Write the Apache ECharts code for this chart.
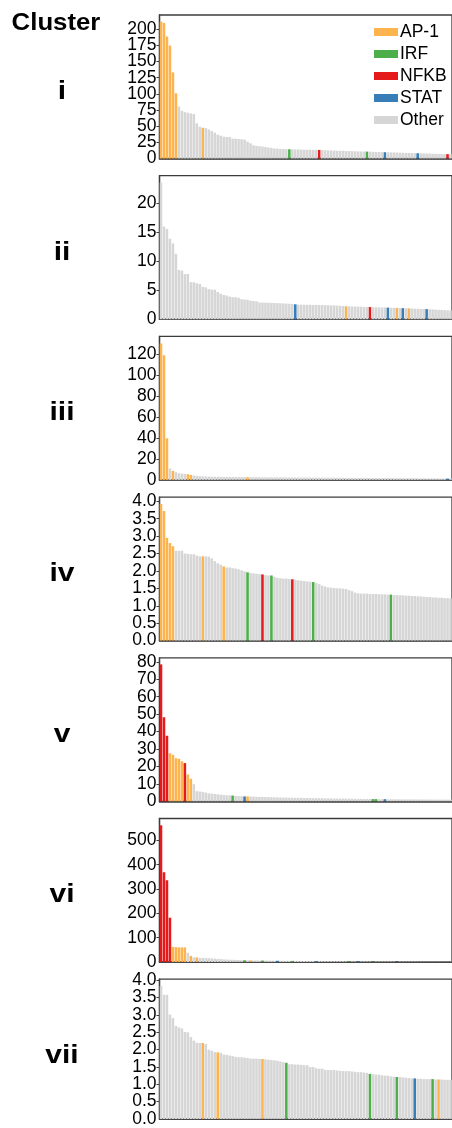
<!DOCTYPE html>
<html>
<head>
<meta charset="utf-8">
<script src="https://cdn.jsdelivr.net/npm/echarts@6/dist/echarts.min.js"></script>
<style>
  html, body { margin: 0; padding: 0; background: #fff; }
  #chart { width: 452px; height: 1128px; }
</style>
</head>
<body>
<div id="chart"></div>
<script>
// Motif families and their colours
const families = ['AP-1', 'IRF', 'NFKB', 'STAT', 'Other'];
const familyColors = ['#FDB44E', '#4DAF4A', '#E41A1C', '#377EB8', '#D6D6D6'];
const clusterNames = ['i', 'ii', 'iii', 'iv', 'v', 'vi', 'vii'];

// Ranked motif enrichment per cluster (top motifs, descending)
const valuesI = [211.7, 209.7, 188.7, 174.8, 133.3, 101, 80.5, 73.8, 71.7, 70.7, 69.7, 68.7, 54.3, 49.2,
  47.6, 47.1, 45.1, 42.5, 40, 36.9, 35.3, 33.8, 33.3, 33.3, 30.7, 30.7, 30.2, 29.7,
  29.2, 26.1, 23.5, 20.5, 19.4, 19, 18.5, 17.9, 16.9, 16.4, 15.3, 15.3, 14.8, 14.8, 14.3, 14.3,
  14.1, 14.0, 13.9, 13.8, 13.7, 13.6, 13.5, 13.4, 13.3, 13.2,
  13.0, 12.8, 12.6, 12.4, 12.2, 12.0, 11.9, 11.8, 11.6, 11.4, 11.3, 11.2, 11.0, 10.9, 10.8,
  10.7, 10.5, 10.3, 10.2, 10.0, 9.9, 9.7,
  9.6, 9.5, 9.3, 9.2, 9.0, 8.9, 8.7, 8.6, 8.4, 8.3, 8.2,
  8.0, 7.9, 7.8, 7.6, 7.4, 7.3, 7.1, 7.0, 6.8, 6.7, 6.6];
const valuesII = [23.6, 16, 15.6, 13.9, 13.1, 11.3, 8.5, 8.4, 7.8, 7.8, 6.4, 6.4,
  6.2, 6.1, 5.6, 5.5, 5.2, 5.1, 5.1, 4.7, 4.4, 4.2, 4.1, 3.9,
  3.8, 3.8, 3.7, 3.45, 3.4, 3.35, 3.2, 3.15, 3.1, 2.9,
  2.88, 2.86, 2.84, 2.82, 2.8, 2.78, 2.75, 2.72, 2.7, 2.67, 2.63,
  2.58,
  2.52, 2.51, 2.5, 2.49, 2.48, 2.47, 2.46, 2.45, 2.44, 2.43, 2.42, 2.4, 2.38, 2.35, 2.32, 2.28,
  2.24,
  2.22, 2.2, 2.19, 2.18, 2.16, 2.14, 2.12,
  2.1,
  2.08, 2.06, 2.05, 2.03, 2.02,
  2.0, 1.98, 1.97, 1.95, 1.93, 1.91, 1.89, 1.87,
  1.85, 1.83, 1.81, 1.79, 1.77, 1.75,
  1.72, 1.69, 1.66, 1.63, 1.6, 1.57, 1.54, 1.52];
const valuesIII = [130.2, 119, 39.7, 10.8, 8.6, 7.3, 6.3, 6.0, 5.7, 5.4, 4.8,
  4.1, 3.8, 3.6, 3.4, 3.3, 3.2, 3.1, 3.0, 2.95, 2.9, 2.85, 2.8, 2.78, 2.75, 2.72, 2.7, 2.68, 2.65,
  2.62,
  2.6, 2.59, 2.55, 2.54, 2.5, 2.49, 2.47, 2.44, 2.43, 2.41, 2.4, 2.37, 2.36, 2.33, 2.31, 2.3, 2.27, 2.26, 2.24, 2.21,
  2.2, 2.18, 2.15, 2.14, 2.13, 2.1, 2.07, 2.06, 2.04, 2.01, 2.0, 1.98, 1.95, 1.94, 1.92, 1.9, 1.87, 1.86, 1.84, 1.81,
  1.8, 1.78, 1.75, 1.74, 1.72, 1.7, 1.68, 1.65, 1.64, 1.62, 1.6, 1.57, 1.56, 1.54, 1.51, 1.5, 1.48, 1.45, 1.44, 1.42, 1.4, 1.38, 1.35, 1.34, 1.32, 1.3,
  1.28, 1.26];
const valuesIV = [3.92, 3.72, 2.95, 2.80, 2.71,
  2.58, 2.58, 2.58, 2.5, 2.49, 2.48, 2.48, 2.44, 2.42,
  2.42,
  2.42, 2.41, 2.36, 2.28, 2.22, 2.18,
  2.13,
  2.1, 2.1, 2.08, 2.07, 2.05, 2.02, 1.99,
  1.96,
  1.94, 1.93, 1.92, 1.91,
  1.9,
  1.88, 1.87,
  1.87,
  1.83, 1.8, 1.79, 1.78, 1.78, 1.77,
  1.76,
  1.75, 1.73, 1.72, 1.71, 1.7, 1.69,
  1.68,
  1.65, 1.62, 1.58, 1.55, 1.53, 1.52, 1.51, 1.5, 1.5, 1.49, 1.48, 1.45, 1.42,
  1.38, 1.36, 1.35, 1.35, 1.35, 1.34, 1.34, 1.34, 1.33, 1.33, 1.33, 1.32,
  1.32,
  1.31, 1.31, 1.30, 1.30, 1.29, 1.29, 1.28, 1.28, 1.27, 1.27, 1.26, 1.25, 1.25, 1.24, 1.24, 1.23, 1.23, 1.22, 1.22, 1.21];
const valuesV = [78.5, 48.2, 37.6, 27.6, 26.7, 24.7, 24.4, 23, 21.9, 15.4, 12.9, 9.8,
  5.8, 5.6, 5.4, 5.0, 4.6, 4.4, 4.2, 4.0, 3.8, 3.6, 3.5, 3.4,
  3.3,
  3.1, 3.0, 2.9,
  2.8, 2.8,
  2.7, 2.65, 2.6, 2.52, 2.5, 2.44, 2.4, 2.35, 2.3, 2.26, 2.2, 2.16, 2.12, 2.1, 2.05, 2.0, 1.98, 1.95, 1.9, 1.88,
  1.85, 1.82, 1.78, 1.75, 1.73, 1.7, 1.68, 1.65, 1.62, 1.6, 1.58, 1.55, 1.52, 1.5, 1.48, 1.45, 1.42, 1.4, 1.37, 1.35, 1.32,
  1.28, 1.27,
  1.25, 1.24,
  1.22,
  1.2, 1.19, 1.18, 1.16, 1.15, 1.14, 1.12, 1.11, 1.1, 1.08, 1.07, 1.06, 1.05, 1.04, 1.02, 1.01, 1.0, 0.99, 0.98, 0.97, 0.96, 0.95];
const valuesVI = [562, 369, 336, 182, 62, 61, 60, 60, 60, 38, 25, 19, 19,
  17, 17, 16, 15.5, 15, 14, 13, 12, 11, 10, 9.5, 9, 8.5, 8, 7.6,
  7.3, 7, 6.8,
  6.5, 6.3, 6.1,
  6,
  5.8, 5.6, 5.5, 5.3,
  5.2,
  5.0, 4.9, 4.8, 4.7,
  4.6,
  4.5, 4.4, 4.3, 4.2, 4.1, 4.0, 3.9,
  3.8,
  3.7, 3.65, 3.6, 3.5, 3.45, 3.4, 3.3, 3.25, 3.2, 3.1,
  3.0,
  2.95, 2.9,
  2.85,
  2.8, 2.75, 2.7, 2.65,
  2.6,
  2.55, 2.52, 2.48, 2.44, 2.4, 2.35, 2.3,
  2.25,
  2.2, 2.18, 2.15, 2.1, 2.08, 2.05, 2.0, 1.98, 1.95, 1.9, 1.88, 1.85, 1.8, 1.78, 1.75, 1.7, 1.65, 1.6];
const valuesVII = [3.84, 3.58, 3.58, 3.01, 2.91, 2.68, 2.64, 2.61, 2.51, 2.5, 2.36, 2.26, 2.2, 2.19,
  2.19,
  2.16, 2.0, 1.97, 1.93,
  1.92,
  1.91, 1.86, 1.85, 1.83, 1.81, 1.79, 1.78, 1.78, 1.77, 1.76, 1.74, 1.74, 1.74, 1.73,
  1.73,
  1.72, 1.71, 1.70, 1.69, 1.68, 1.66, 1.64,
  1.62,
  1.58, 1.58, 1.57, 1.57, 1.56, 1.55, 1.55, 1.5, 1.5, 1.46, 1.45, 1.45, 1.42, 1.41, 1.41, 1.41, 1.40, 1.39, 1.38, 1.38, 1.38, 1.37, 1.36, 1.35, 1.35, 1.34, 1.33,
  1.30,
  1.29, 1.28, 1.28, 1.26, 1.25, 1.25, 1.23, 1.22,
  1.21,
  1.21, 1.2, 1.19, 1.18, 1.17,
  1.17,
  1.16, 1.16, 1.15, 1.15, 1.15,
  1.15,
  1.14,
  1.14,
  1.14, 1.13, 1.13, 1.13];

// Ranks of family motifs per cluster: [AP-1, IRF, NFKB, STAT]; the rest are "Other"
const marksI = [[0, 1, 2, 3, 4, 5, 14], [43, 69], [53, 96], [75, 86]];
const marksII = [[62, 79, 83], [], [70], [45, 76, 81, 89]];
const marksIII = [[0, 1, 2, 4, 9, 10, 29], [], [], [96]];
const marksIV = [[0, 1, 2, 3, 4, 14, 21], [29, 37, 51, 77], [34, 44], []];
const marksV = [[3, 4, 5, 6, 7, 9, 10, 29], [24, 71, 72], [0, 1, 2, 8], [28, 75]];
const marksVI = [[4, 5, 6, 7, 8, 10, 12, 30], [28, 34, 44, 63, 71], [0, 1, 2, 3], [39, 52, 66, 79]];
const marksVII = [[14, 19, 34, 93], [42, 70, 79, 91], [], [85]];

// Y-axis extent and tick step per cluster
const yMax = [222, 24.8, 137, 4.12, 82.3, 590, 4.03];
const yStep = [25, 5, 20, 0.5, 10, 100, 0.5];
const yDecimals = [0, 0, 0, 1, 0, 0, 1];

const allValues = [valuesI, valuesII, valuesIII, valuesIV, valuesV, valuesVI, valuesVII];
const allMarks = [marksI, marksII, marksIII, marksIV, marksV, marksVI, marksVII];

const FONT = '"Liberation Sans", Arial, Helvetica, sans-serif';
const PANEL_TOP = 15, PANEL_PITCH = 160.7, PANEL_H = 143.5;
const AXIS_COLOR = '#3c3c3c';

const grids = [], xAxes = [], yAxes = [], series = [], graphics = [];

function labelStyle(p) {
  return {
    margin: 3, color: '#000', fontSize: 17.5, fontFamily: FONT,
    formatter: v => v.toFixed(yDecimals[p])
  };
}

allValues.forEach((vals, p) => {
  const top = PANEL_TOP + p * PANEL_PITCH;
  grids.push({
    left: 159.5, right: -3, top: top, height: PANEL_H,
    show: true, borderColor: AXIS_COLOR, borderWidth: 1.3, backgroundColor: '#fff'
  });
  xAxes.push({
    type: 'category', gridIndex: p,
    data: vals.map((v, k) => 'r' + (k + 1)),
    axisLine: { show: true, lineStyle: { color: AXIS_COLOR, width: 1.5 } },
    axisTick: { show: false }, axisLabel: { show: false }, splitLine: { show: false }
  });
  // main value axis: ticks and labels above zero
  yAxes.push({
    type: 'value', gridIndex: p, min: 0, max: yMax[p], interval: yStep[p],
    axisLine: { show: true, lineStyle: { color: AXIS_COLOR, width: 1.3 } },
    axisTick: { show: true, length: 3, lineStyle: { color: AXIS_COLOR } },
    axisLabel: Object.assign({ showMaxLabel: false, showMinLabel: false }, labelStyle(p)),
    splitLine: { show: false }
  });
  // companion axis on the same side carrying the zero label
  yAxes.push({
    type: 'value', gridIndex: p, position: 'left', offset: 0,
    min: 0, max: yMax[p], interval: yMax[p],
    axisLine: { show: false }, axisTick: { show: false },
    axisLabel: Object.assign({ showMaxLabel: false, showMinLabel: true }, labelStyle(p)),
    splitLine: { show: false }
  });

  // family index for each ranked motif
  const fam = vals.map(() => 4);
  allMarks[p].forEach((idx, f) => idx.forEach(k => { fam[k] = f; }));

  families.forEach((name, f) => {
    series.push({
      name: name, type: 'bar', xAxisIndex: p, yAxisIndex: 2 * p, stack: 'c' + p,
      barCategoryGap: '14%',
      itemStyle: { color: familyColors[f] },
      emphasis: { disabled: true },
      animation: false,
      data: vals.map((v, k) => (fam[k] === f ? v : '-'))
    });
  });

  graphics.push({
    type: 'text', x: 62, y: top + 77, scaleX: 1.2,
    style: {
      text: clusterNames[p], fill: '#000', font: 'bold 25px ' + FONT,
      textAlign: 'center', textVerticalAlign: 'middle'
    }
  });
});

graphics.push({
  type: 'text', x: 56, y: 24, scaleX: 1.12,
  style: {
    text: 'Cluster', fill: '#000', font: 'bold 23px ' + FONT,
    textAlign: 'center', textVerticalAlign: 'middle'
  }
});

const chart = echarts.init(document.getElementById('chart'));
chart.setOption({
  animation: false,
  grid: grids,
  xAxis: xAxes,
  yAxis: yAxes,
  series: series,
  legend: {
    data: families, orient: 'vertical', left: 374, top: 23,
    itemWidth: 24, itemHeight: 8, itemGap: 4, icon: 'rect', padding: 0,
    selectedMode: false,
    textStyle: { color: '#000', fontSize: 17.5, fontFamily: FONT, padding: [0, 0, 0, -3] }
  },
  graphic: graphics
});
</script>
</body>
</html>
